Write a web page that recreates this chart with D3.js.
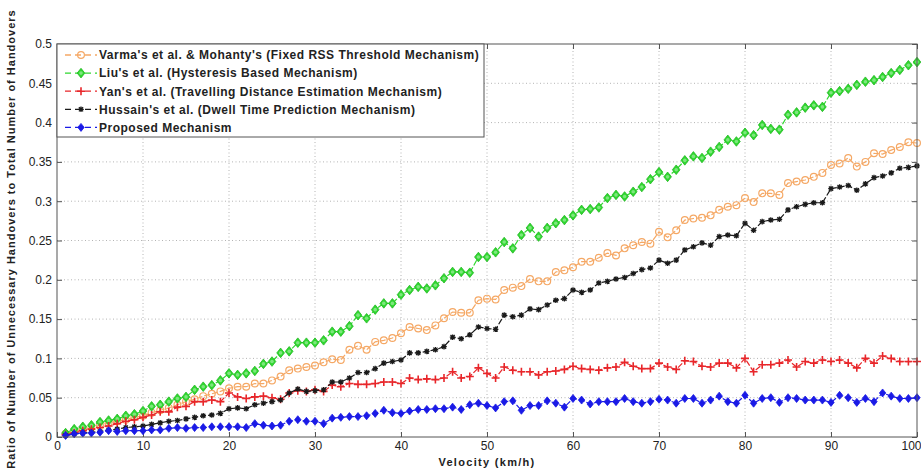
<!DOCTYPE html>
<html>
<head>
<meta charset="utf-8">
<script src="https://cdn.jsdelivr.net/npm/d3@7"></script>
<style>
  html, body { margin: 0; padding: 0; background: #fff; }
  svg { display: block; font-family: "Liberation Sans", Arial, Helvetica, sans-serif; }
</style>
</head>
<body>
<svg id="chart" width="921" height="474"></svg>
<script>
// Velocity samples (km/h)
const velocity = d3.range(1, 101);

// Ratio of unnecessary handovers, one array per mechanism
const varma = [
  0.004, 0.007, 0.010, 0.012, 0.015, 0.018, 0.020, 0.022, 0.025, 0.027,
  0.031, 0.034, 0.037, 0.041, 0.045, 0.048, 0.052, 0.055, 0.058, 0.062,
  0.064, 0.064, 0.068, 0.068, 0.072, 0.077, 0.085, 0.087, 0.089, 0.091,
  0.095, 0.099, 0.098, 0.111, 0.116, 0.111, 0.121, 0.123, 0.126, 0.132,
  0.140, 0.138, 0.136, 0.142, 0.151, 0.159, 0.158, 0.158, 0.174, 0.176,
  0.175, 0.187, 0.190, 0.192, 0.201, 0.198, 0.198, 0.210, 0.212, 0.216,
  0.223, 0.223, 0.228, 0.234, 0.231, 0.240, 0.244, 0.248, 0.246, 0.261,
  0.254, 0.263, 0.276, 0.278, 0.279, 0.282, 0.289, 0.293, 0.295, 0.304,
  0.299, 0.310, 0.310, 0.308, 0.323, 0.325, 0.327, 0.331, 0.336, 0.346,
  0.348, 0.355, 0.344, 0.350, 0.361, 0.360, 0.365, 0.369, 0.375, 0.374
];
const liu = [
  0.005, 0.010, 0.013, 0.015, 0.019, 0.021, 0.023, 0.027, 0.029, 0.033,
  0.039, 0.041, 0.045, 0.049, 0.051, 0.060, 0.064, 0.066, 0.072, 0.081,
  0.079, 0.081, 0.084, 0.093, 0.096, 0.107, 0.109, 0.120, 0.120, 0.120,
  0.123, 0.134, 0.134, 0.141, 0.155, 0.151, 0.162, 0.170, 0.170, 0.181,
  0.187, 0.191, 0.189, 0.193, 0.202, 0.210, 0.210, 0.209, 0.229, 0.229,
  0.235, 0.248, 0.240, 0.257, 0.266, 0.255, 0.266, 0.272, 0.276, 0.282,
  0.289, 0.290, 0.292, 0.304, 0.308, 0.306, 0.312, 0.318, 0.328, 0.337,
  0.331, 0.340, 0.352, 0.357, 0.355, 0.363, 0.369, 0.378, 0.376, 0.387,
  0.384, 0.397, 0.392, 0.391, 0.410, 0.413, 0.419, 0.422, 0.420, 0.438,
  0.440, 0.443, 0.448, 0.452, 0.454, 0.458, 0.463, 0.467, 0.473, 0.477
];
const yan = [
  0.003, 0.005, 0.008, 0.010, 0.012, 0.014, 0.017, 0.020, 0.022, 0.025,
  0.028, 0.032, 0.032, 0.038, 0.039, 0.045, 0.045, 0.047, 0.045, 0.056,
  0.051, 0.049, 0.051, 0.052, 0.050, 0.048, 0.056, 0.059, 0.058, 0.060,
  0.058, 0.066, 0.064, 0.068, 0.067, 0.067, 0.068, 0.070, 0.070, 0.068,
  0.075, 0.073, 0.074, 0.073, 0.075, 0.083, 0.075, 0.077, 0.088, 0.081,
  0.075, 0.089, 0.085, 0.083, 0.083, 0.079, 0.083, 0.084, 0.086, 0.090,
  0.087, 0.086, 0.085, 0.088, 0.089, 0.095, 0.090, 0.087, 0.087, 0.094,
  0.089, 0.086, 0.097, 0.096, 0.090, 0.089, 0.094, 0.094, 0.088, 0.100,
  0.083, 0.092, 0.092, 0.094, 0.098, 0.089, 0.096, 0.094, 0.098, 0.096,
  0.098, 0.094, 0.088, 0.100, 0.094, 0.103, 0.100, 0.096, 0.096, 0.096
];
const hussain = [
  0.002, 0.004, 0.005, 0.006, 0.007, 0.009, 0.010, 0.012, 0.013, 0.014,
  0.016, 0.018, 0.020, 0.021, 0.023, 0.025, 0.027, 0.028, 0.030, 0.036,
  0.037, 0.036, 0.041, 0.043, 0.045, 0.047, 0.056, 0.061, 0.058, 0.059,
  0.060, 0.070, 0.070, 0.075, 0.082, 0.082, 0.087, 0.094, 0.096, 0.098,
  0.107, 0.107, 0.109, 0.111, 0.115, 0.127, 0.125, 0.130, 0.140, 0.138,
  0.137, 0.155, 0.153, 0.155, 0.163, 0.162, 0.168, 0.174, 0.176, 0.187,
  0.184, 0.187, 0.196, 0.198, 0.201, 0.203, 0.208, 0.213, 0.215, 0.225,
  0.221, 0.225, 0.238, 0.242, 0.247, 0.244, 0.255, 0.257, 0.256, 0.272,
  0.263, 0.274, 0.276, 0.277, 0.289, 0.293, 0.296, 0.298, 0.298, 0.316,
  0.318, 0.320, 0.314, 0.322, 0.330, 0.332, 0.336, 0.342, 0.343, 0.345
];
const proposed = [
  0.002, 0.004, 0.005, 0.005, 0.006, 0.008, 0.007, 0.008, 0.008, 0.008,
  0.009, 0.009, 0.011, 0.012, 0.011, 0.012, 0.012, 0.013, 0.013, 0.013,
  0.013, 0.012, 0.017, 0.015, 0.014, 0.015, 0.020, 0.022, 0.020, 0.020,
  0.017, 0.024, 0.025, 0.026, 0.026, 0.027, 0.030, 0.034, 0.031, 0.030,
  0.033, 0.035, 0.035, 0.036, 0.036, 0.038, 0.035, 0.041, 0.043, 0.040,
  0.037, 0.045, 0.046, 0.034, 0.040, 0.040, 0.046, 0.043, 0.038, 0.049,
  0.047, 0.042, 0.045, 0.045, 0.045, 0.049, 0.045, 0.043, 0.045, 0.048,
  0.047, 0.043, 0.049, 0.049, 0.043, 0.047, 0.052, 0.045, 0.043, 0.053,
  0.043, 0.049, 0.050, 0.044, 0.050, 0.049, 0.047, 0.047, 0.047, 0.044,
  0.053, 0.050, 0.044, 0.049, 0.045, 0.056, 0.052, 0.049, 0.049, 0.050
];

const seriesNames = [
  "Varma's et al. & Mohanty's (Fixed RSS Threshold Mechanism)",
  "Liu's et al. (Hysteresis Based Mechanism)",
  "Yan's et al. (Travelling Distance Estimation Mechanism)",
  "Hussain's et al. (Dwell Time Prediction Mechanism)",
  "Proposed Mechanism"
];
const seriesValues = [varma, liu, yan, hussain, proposed];
const seriesColors = ["#f5a865", "#2fd82f", "#e8262a", "#1a1a1a", "#1a1ae6"];
const seriesMarkers = ["circle", "diamond", "plus", "star", "diamondSmall"];

const xTicks = d3.range(0, 101, 10);
const yTicks = d3.range(0, 0.5001, 0.05).map(v => +v.toFixed(2));
const xTitle = "Velocity (km/h)";
const yTitle = "Ratio of Number of Unnecessary Handovers to Total Number of Handovers";

const svg = d3.select("#chart");
const plot = { left: 57, right: 917, top: 44, bottom: 437 };

const x = d3.scaleLinear().domain([0, 100]).range([plot.left, plot.right]);
const y = d3.scaleLinear().domain([0, 0.5]).range([plot.bottom, plot.top]);

const axisColor = "#555";
const labelColor = "#222";

// dotted grid
const grid = svg.append("g");
grid.selectAll("line.gx").data(xTicks.slice(1, -1)).join("line")
  .attr("x1", d => x(d)).attr("x2", d => x(d))
  .attr("y1", plot.top).attr("y2", plot.bottom)
  .attr("stroke", "#b4b4b4").attr("stroke-width", 1).attr("stroke-dasharray", "1,2.5");
grid.selectAll("line.gy").data(yTicks.slice(1, -1)).join("line")
  .attr("x1", plot.left).attr("x2", plot.right)
  .attr("y1", d => y(d)).attr("y2", d => y(d))
  .attr("stroke", "#b4b4b4").attr("stroke-width", 1).attr("stroke-dasharray", "1,2.5");

// axes with inward ticks
const xAxis = svg.append("g").attr("transform", `translate(0,${plot.bottom})`)
  .call(d3.axisBottom(x).tickValues(xTicks).tickSizeInner(-5).tickSizeOuter(0).tickPadding(4).tickFormat(d3.format("d")));
const yAxis = svg.append("g").attr("transform", `translate(${plot.left},0)`)
  .call(d3.axisLeft(y).tickValues(yTicks).tickSizeInner(-5).tickSizeOuter(0).tickPadding(5).tickFormat(d => d === 0 ? "0" : String(+d.toFixed(2))));
const xAxisTop = svg.append("g").attr("transform", `translate(0,${plot.top})`)
  .call(d3.axisTop(x).tickValues(xTicks).tickSizeInner(-5).tickSizeOuter(0).tickFormat(""));
const yAxisRight = svg.append("g").attr("transform", `translate(${plot.right},0)`)
  .call(d3.axisRight(y).tickValues(yTicks).tickSizeInner(-5).tickSizeOuter(0).tickFormat(""));

[xAxis, yAxis, xAxisTop, yAxisRight].forEach(g => {
  g.select(".domain").remove();
  g.selectAll(".tick line").attr("stroke", axisColor);
  g.selectAll(".tick text").attr("fill", labelColor).attr("font-size", 12)
    .attr("font-family", "'Liberation Sans', Arial, sans-serif");
});
// keep the last velocity label inside the page edge
xAxis.selectAll(".tick text").filter(d => d === 100).attr("text-anchor", "end").attr("x", 921 - plot.right);

// series lines and markers
const line = d3.line().x((d, i) => x(velocity[i])).y(d => y(d));

function drawMarker(g, type, color, cx, cy) {
  if (type === "circle") {
    g.append("circle").attr("cx", cx).attr("cy", cy).attr("r", 3.4)
      .attr("fill", "none").attr("stroke", color).attr("stroke-width", 1.2);
  } else if (type === "diamond") {
    const s = 4.8;
    g.append("path").attr("d", `M${cx},${cy - s}L${cx + s * 0.8},${cy}L${cx},${cy + s}L${cx - s * 0.8},${cy}Z`)
      .attr("fill", color).attr("stroke", "#22b822").attr("stroke-width", 0.8);
    g.append("circle").attr("cx", cx).attr("cy", cy).attr("r", 1.8).attr("fill", "#7ee67e");
  } else if (type === "diamondSmall") {
    const s = 4;
    g.append("path").attr("d", `M${cx},${cy - s}L${cx + s * 0.8},${cy}L${cx},${cy + s}L${cx - s * 0.8},${cy}Z`)
      .attr("fill", color).attr("stroke", color).attr("stroke-width", 0.8);
  } else if (type === "plus") {
    const s = 4;
    g.append("path").attr("d", `M${cx - s},${cy}H${cx + s}M${cx},${cy - s}V${cy + s}`)
      .attr("stroke", color).attr("stroke-width", 1.6).attr("fill", "none");
  } else if (type === "star") {
    const s = 2.8;
    g.append("path").attr("d",
      `M${cx - s},${cy}H${cx + s}M${cx},${cy - s}V${cy + s}` +
      `M${cx - s * 0.75},${cy - s * 0.75}L${cx + s * 0.75},${cy + s * 0.75}` +
      `M${cx - s * 0.75},${cy + s * 0.75}L${cx + s * 0.75},${cy - s * 0.75}`)
      .attr("stroke", color).attr("stroke-width", 1.3).attr("fill", "none");
  }
}

seriesValues.forEach((vals, k) => {
  const g = svg.append("g");
  g.append("path").datum(vals).attr("d", line)
    .attr("fill", "none").attr("stroke", seriesColors[k])
    .attr("stroke-width", 1.2).attr("stroke-dasharray", "6,2");
  vals.forEach((v, i) => drawMarker(g, seriesMarkers[k], seriesColors[k], x(velocity[i]), y(v)));
});

// plot frame
svg.append("rect")
  .attr("x", plot.left).attr("y", plot.top)
  .attr("width", plot.right - plot.left).attr("height", plot.bottom - plot.top)
  .attr("fill", "none").attr("stroke", axisColor).attr("stroke-width", 1);

// legend
const legend = svg.append("g");
const lg = { x: plot.left, y: plot.top, w: 427, h: 93, rowH: 18.1 };
legend.append("rect").attr("x", lg.x).attr("y", lg.y).attr("width", lg.w).attr("height", lg.h)
  .attr("fill", "#fff").attr("stroke", axisColor).attr("stroke-width", 1);
seriesNames.forEach((name, k) => {
  const cy = lg.y + 11 + k * lg.rowH;
  legend.append("line").attr("x1", 65).attr("x2", 97).attr("y1", cy).attr("y2", cy)
    .attr("stroke", seriesColors[k]).attr("stroke-width", 1.3).attr("stroke-dasharray", "6,4");
  drawMarker(legend, seriesMarkers[k], seriesColors[k], 81, cy);
  legend.append("text").attr("x", 99).attr("y", cy).attr("dy", "0.36em")
    .attr("font-size", 12).attr("font-weight", "bold").attr("letter-spacing", 0.5).attr("fill", labelColor)
    .text(name);
});

// axis titles
svg.append("text").attr("x", (plot.left + plot.right) / 2).attr("y", 466)
  .attr("text-anchor", "middle").attr("font-size", 11).attr("font-weight", "bold")
  .attr("letter-spacing", 1.3).attr("fill", labelColor)
  .text(xTitle);
svg.append("text").attr("transform", `translate(15,239) rotate(-90)`)
  .attr("text-anchor", "middle").attr("font-size", 11).attr("font-weight", "bold")
  .attr("letter-spacing", 1).attr("fill", labelColor)
  .text(yTitle);
</script>
</body>
</html>
